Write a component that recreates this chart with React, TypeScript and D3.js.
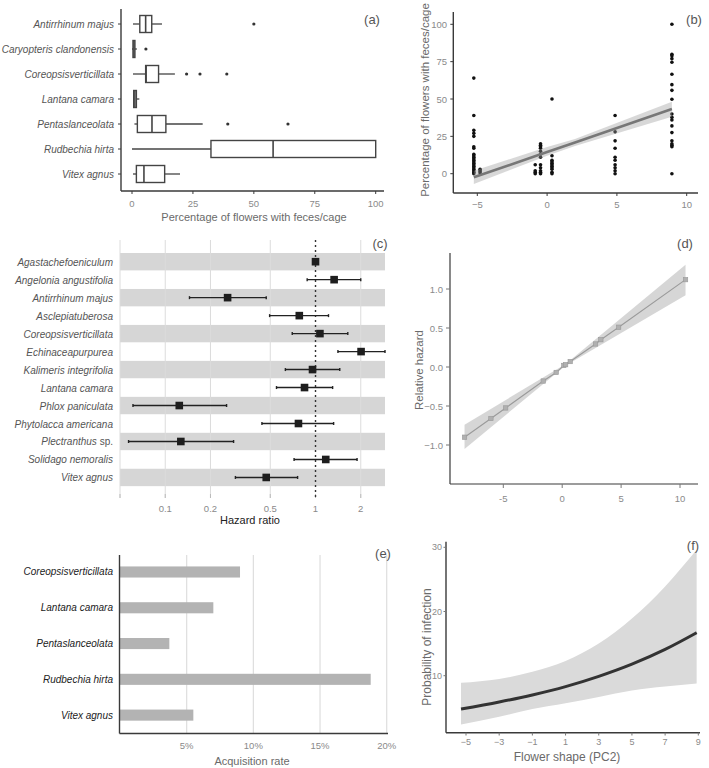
import React from "react";
import * as d3 from "d3";

// ---------- Panel (a) ----------
const boxSpecies = ["Antirrhinum  majus", "Caryopteris clandonensis", "Coreopsisverticillata", "Lantana camara", "Pentaslanceolata", "Rudbechia hirta", "Vitex agnus"];
const boxWLo = [0.4, 0, 0.4, 0.5, 1, 0, 0.4];
const boxQ1 = [3.2, 0.4, 5.6, 0.7, 2.2, 32.4, 1.8];
const boxMed = [5.6, 0.8, 5.8, 1.2, 8.2, 57.9, 4.9];
const boxQ3 = [8.1, 1.2, 10.9, 1.8, 13.9, 100, 13.4];
const boxWHi = [12.3, 2, 17.6, 3, 29, 100, 19.7];
const boxOut = [[50], [5.7], [22.4, 27.9, 38.9], [], [39.3, 64], [], []];
const pctTicks = [0, 25, 50, 75, 100];

// ---------- Panel (b) ----------
const scX = [-5.25, -4.8, -0.85, -0.47, 0.35, 4.87, 8.94];
const scY = [
  [64, 39, 29, 27, 25, 18, 17, 13, 12, 11, 10, 9, 8, 7, 6, 5, 4, 3, 2, 1, 0],
  [0.5, 1.5, 2.5, 3],
  [0, 1, 2, 6],
  [20, 19, 18, 17, 15, 13, 11, 6, 4, 2, 1, 0],
  [50, 12, 9, 8, 7, 6, 5, 4, 3, 1, 0],
  [39, 28, 22, 17, 11, 9, 6, 4, 2, 0],
  [100, 80, 79, 77, 74.6, 66.6, 59.6, 55.8, 49.8, 40, 37.8, 36, 32, 27.5, 22, 20, 19, 18, 0],
];
const fitX = [-5.25, 0, 2, 8.94];
const fitY = [-2.4, 14.5, 20.9, 43.3];
const fitLo = [-6.9, 12, 18.6, 38.2];
const fitHi = [2.0, 17.8, 23.2, 48.2];
const bXTicks = [-5, 0, 5, 10];
const bYTicks = [0, 25, 50, 75, 100];

// ---------- Panel (c) ----------
const hrSpecies = ["Agastachefoeniculum", "Angelonia angustifolia", "Antirrhinum  majus", "Asclepiatuberosa", "Coreopsisverticillata", "Echinaceapurpurea", "Kalimeris integrifolia", "Lantana camara", "Phlox paniculata", "Phytolacca americana", "Plectranthus", "Solidago nemoralis", "Vitex agnus"];
const hrVal = [1.0, 1.33, 0.26, 0.78, 1.07, 2.01, 0.955, 0.845, 0.124, 0.77, 0.127, 1.17, 0.47];
const hrLo = [1.0, 0.88, 0.145, 0.495, 0.70, 1.41, 0.63, 0.55, 0.061, 0.44, 0.057, 0.72, 0.293];
const hrHi = [1.0, 2.0, 0.47, 1.22, 1.64, 2.9, 1.45, 1.30, 0.256, 1.32, 0.285, 1.89, 0.76];
const hrGrid = [0.05, 0.1, 0.2, 0.5, 1, 2];
const hrTickLabels = ["", "0.1", "0.2", "0.5", "1", "2"];

// ---------- Panel (d) ----------
const rhX = [-8.29, -6.05, -4.8, -1.61, -0.51, 0.14, 0.29, 0.68, 2.83, 3.28, 4.79, 10.47];
const rhY = [-0.9, -0.66, -0.525, -0.18, -0.07, 0.02, 0.03, 0.07, 0.295, 0.35, 0.51, 1.12];
const rhBandX = [-8.29, 0.3, 10.47];
const rhBandLo = [-1.05, 0.02, 0.92];
const rhBandHi = [-0.74, 0.04, 1.31];
const dXTicks = [-5, 0, 5, 10];
const dYTicks = [1.0, 0.5, 0.0, -0.5, -1.0];

// ---------- Panel (e) ----------
const acqSpecies = ["Coreopsisverticillata", "Lantana camara", "Pentaslanceolata", "Rudbechia hirta", "Vitex agnus"];
const acqRate = [9.0, 7.0, 3.7, 18.8, 5.5];
const acqTicks = [5, 10, 15, 20];

// ---------- Panel (f) ----------
const pfX = [-5.3, -3, -1, 1, 3, 5, 7, 8.9];
const pfY = [4.8, 5.9, 7.0, 8.3, 9.9, 11.8, 14.1, 16.7];
const pfLo = [2.4, 3.6, 4.8, 5.7, 6.7, 7.7, 8.3, 8.8];
const pfHi = [8.9, 9.5, 10.6, 12.3, 15.0, 18.9, 23.9, 29.6];
const fXTicks = [-5, -3, -1, 1, 3, 5, 7, 9];
const fYTicks = [10, 20, 30];

const FONT = "Liberation Sans, Arial, Helvetica, sans-serif";
const AX = "#3a3a3a";
const TICK = "#8a8a8a";
const TITLE = "#6a6a6a";

function PanelA() {
  const x = d3.scaleLinear().domain([0, 100]).range([132, 375.7]);
  const y = d3.scaleBand().domain(boxSpecies).range([11.5, 186.5]);
  const bh = 17;
  return (
    <g>
      <line x1={121} x2={121} y1={9} y2={191} stroke={AX} strokeWidth={1.4} />
      <line x1={121} x2={384} y1={191} y2={191} stroke={AX} strokeWidth={1.4} />
      {pctTicks.map((t) => (
        <g key={t}>
          <line x1={x(t)} x2={x(t)} y1={191} y2={194} stroke={AX} />
          <text x={x(t)} y={203} textAnchor="middle" dominantBaseline="central" fontSize={9.5} fill={TICK}>{t}</text>
        </g>
      ))}
      <text x={254} y={217} textAnchor="middle" dominantBaseline="central" fontSize={11} fill={TITLE}>Percentage of flowers with feces/cage</text>
      {boxSpecies.map((s, i) => {
        const cy = (y(s) as number) + y.bandwidth() / 2;
        return (
          <g key={s}>
            <line x1={118} x2={121} y1={cy} y2={cy} stroke={AX} />
            <text x={114} y={cy} textAnchor="end" dominantBaseline="central" fontSize={10} fontStyle="italic" fill="#555">{s}</text>
            <line x1={x(boxWLo[i])} x2={x(boxQ1[i])} y1={cy} y2={cy} stroke="#444" strokeWidth={1.3} />
            <line x1={x(boxQ3[i])} x2={x(boxWHi[i])} y1={cy} y2={cy} stroke="#444" strokeWidth={1.3} />
            <rect x={x(boxQ1[i])} y={cy - bh / 2} width={Math.max(1, x(boxQ3[i]) - x(boxQ1[i]))} height={bh} fill="white" stroke="#444" strokeWidth={1.4} />
            <line x1={x(boxMed[i])} x2={x(boxMed[i])} y1={cy - bh / 2} y2={cy + bh / 2} stroke="#444" strokeWidth={1.6} />
            {boxOut[i].map((o, j) => (
              <circle key={j} cx={x(o)} cy={cy} r={1.6} fill="#333" />
            ))}
          </g>
        );
      })}
      <text x={372} y={19} textAnchor="middle" dominantBaseline="central" fontSize={13} fill="#555">(a)</text>
    </g>
  );
}

function PanelB() {
  const x = d3.scaleLinear().domain([-5, 10]).range([477.3, 686.7]);
  const y = d3.scaleLinear().domain([0, 100]).range([173.7, 24.3]);
  const area = d3.area<number>().x((_, i) => x(fitX[i])).y0((_, i) => y(fitLo[i])).y1((_, i) => y(fitHi[i]));
  const line = d3.line<number>().x((_, i) => x(fitX[i])).y((d) => y(d));
  return (
    <g>
      <line x1={453.3} x2={453.3} y1={12} y2={193} stroke={AX} strokeWidth={1.4} />
      <line x1={453.3} x2={698} y1={193} y2={193} stroke={AX} strokeWidth={1.4} />
      {bXTicks.map((t) => (
        <g key={t}>
          <line x1={x(t)} x2={x(t)} y1={193} y2={196} stroke={AX} />
          <text x={x(t)} y={204} textAnchor="middle" dominantBaseline="central" fontSize={9.5} fill={TICK}>{t < 0 ? "\u2212" + Math.abs(t) : t}</text>
        </g>
      ))}
      {bYTicks.map((t) => (
        <g key={t}>
          <line x1={450.3} x2={453.3} y1={y(t)} y2={y(t)} stroke={AX} />
          <text x={447} y={y(t)} textAnchor="end" dominantBaseline="central" fontSize={9.5} fill={TICK}>{t}</text>
        </g>
      ))}
      <text transform={`translate(425,100) rotate(-90)`} textAnchor="middle" dominantBaseline="central" fontSize={11.5} fill={TITLE}>Percentage of flowers  with  feces/cage</text>
      {scX.map((cx, i) =>
        scY[i].map((v, j) => <circle key={`${i}-${j}`} cx={x(cx)} cy={y(v)} r={1.8} fill="#111" />)
      )}
      <path d={area(fitX) || ""} fill="#999" fillOpacity={0.38} />
      <path d={line(fitY) || ""} fill="none" stroke="#777" strokeWidth={2.6} />
      <text x={694} y={19} textAnchor="middle" dominantBaseline="central" fontSize={13} fill="#555">(b)</text>
    </g>
  );
}

function PanelC() {
  const x = d3.scaleLog().domain([0.05, 2.9]).range([120, 385]);
  const y = d3.scaleBand().domain(hrSpecies).range([252.7, 485.9]).paddingInner(0.03);
  const step = y.step();
  return (
    <g>
      {hrSpecies.map((s, i) =>
        i % 2 === 0 ? <rect key={s} x={120} y={(y(s) as number) + 0.3} width={265} height={step - 0.6} fill="#d6d6d6" /> : null
      )}
      {hrGrid.map((t, i) =>
        t === 1 ? null : <line key={t} x1={x(t)} x2={x(t)} y1={240} y2={498} stroke="#dcdcdc" strokeWidth={1} />
      )}
      {hrGrid.map((t, i) => (
        <g key={"t" + t}>
          <line x1={x(t)} x2={x(t)} y1={494} y2={498} stroke="#bbb" />
          <text x={x(t)} y={508} textAnchor="middle" dominantBaseline="central" fontSize={9.5} fill={TICK}>{hrTickLabels[i]}</text>
        </g>
      ))}
      <line x1={x(1)} x2={x(1)} y1={240} y2={498} stroke="#333" strokeWidth={1.4} strokeDasharray="2,3" />
      <text x={250} y={520} textAnchor="middle" dominantBaseline="central" fontSize={11} fill="#222">Hazard ratio</text>
      {hrSpecies.map((s, i) => {
        const cy = (y(s) as number) + step / 2;
        return (
          <g key={s}>
            <text x={113} y={cy} textAnchor="end" dominantBaseline="central" fontSize={10} fill="#555">
              {s === "Plectranthus" ? (
                <><tspan fontStyle="italic">Plectranthus</tspan><tspan> sp.</tspan></>
              ) : (
                <tspan fontStyle="italic">{s}</tspan>
              )}
            </text>
            {hrLo[i] !== hrHi[i] && (
              <g stroke="#222" strokeWidth={1.4}>
                <line x1={x(hrLo[i])} x2={x(hrHi[i])} y1={cy} y2={cy} />
                <line x1={x(hrLo[i])} x2={x(hrLo[i])} y1={cy - 1.5} y2={cy + 1.5} />
                <line x1={x(hrHi[i])} x2={x(hrHi[i])} y1={cy - 1.5} y2={cy + 1.5} />
              </g>
            )}
            <rect x={x(hrVal[i]) - 3.8} y={cy - 3.8} width={7.6} height={7.6} fill="#1e1e1e" />
          </g>
        );
      })}
      <text x={380} y={243} textAnchor="middle" dominantBaseline="central" fontSize={13} fill="#555">(c)</text>
    </g>
  );
}

function PanelD() {
  const x = d3.scaleLinear().domain([-5, 10]).range([503.3, 680]);
  const y = d3.scaleLinear().domain([-1, 1]).range([445, 289]);
  const area = d3.area<number>().x((d) => x(d)).y0((_, i) => y(rhBandLo[i])).y1((_, i) => y(rhBandHi[i]));
  const line = d3.line<number>().x((_, i) => x(rhX[i])).y((d) => y(d));
  return (
    <g>
      <line x1={450} x2={450} y1={253} y2={484} stroke={AX} strokeWidth={1.2} />
      <line x1={450} x2={698} y1={484} y2={484} stroke={AX} strokeWidth={1.2} />
      {dXTicks.map((t) => (
        <g key={t}>
          <line x1={x(t)} x2={x(t)} y1={484} y2={488} stroke="#777" />
          <text x={x(t)} y={498} textAnchor="middle" dominantBaseline="central" fontSize={9.5} fill={TICK}>{t}</text>
        </g>
      ))}
      {dYTicks.map((t) => (
        <g key={t}>
          <line x1={446} x2={450} y1={y(t)} y2={y(t)} stroke="#777" />
          <text x={443} y={y(t)} textAnchor="end" dominantBaseline="central" fontSize={9.5} fill={TICK}>{t < 0 ? "\u2212" + Math.abs(t).toFixed(1) : t.toFixed(1)}</text>
        </g>
      ))}
      <text transform={`translate(419,370) rotate(-90)`} textAnchor="middle" dominantBaseline="central" fontSize={11.5} fill={TITLE}>Relative hazard</text>
      <path d={area(rhBandX) || ""} fill="#c8c8c8" fillOpacity={0.75} />
      <path d={line(rhY) || ""} fill="none" stroke="#9a9a9a" strokeWidth={1.1} />
      {rhX.map((v, i) => (
        <rect key={i} x={x(v) - 2.2} y={y(rhY[i]) - 2.2} width={4.4} height={4.4} fill="#b0b0b0" stroke="#999" strokeWidth={0.6} />
      ))}
      <text x={685} y={243} textAnchor="middle" dominantBaseline="central" fontSize={13} fill="#555">(d)</text>
    </g>
  );
}

function PanelE() {
  const x = d3.scaleLinear().domain([0, 20]).range([120, 386.7]);
  const y = d3.scaleBand().domain(acqSpecies).range([554.1, 733]).paddingInner(0.69).paddingOuter(0.345);
  return (
    <g>
      {acqTicks.map((t) => (
        <g key={t}>
          <line x1={x(t)} x2={x(t)} y1={555} y2={733} stroke="#dedede" strokeWidth={1.2} />
          <text x={x(t)} y={745} textAnchor="middle" dominantBaseline="central" fontSize={9.5} fill={TICK}>{t}%</text>
        </g>
      ))}
      {acqSpecies.map((s, i) => {
        const yy = y(s) as number;
        return (
          <g key={s}>
            <rect x={x(0)} y={yy} width={x(acqRate[i]) - x(0)} height={y.bandwidth()} fill="#b3b3b3" />
            <text x={113} y={yy + y.bandwidth() / 2} textAnchor="end" dominantBaseline="central" fontSize={10} fontStyle="italic" fill="#222">{s}</text>
          </g>
        );
      })}
      <line x1={119.5} x2={119.5} y1={555} y2={733.5} stroke={AX} strokeWidth={1.4} />
      <line x1={119.5} x2={388} y1={733.5} y2={733.5} stroke={AX} strokeWidth={1.4} />
      <text x={252} y={761} textAnchor="middle" dominantBaseline="central" fontSize={11} fill={TITLE}>Acquisition  rate</text>
      <text x={383} y={553} textAnchor="middle" dominantBaseline="central" fontSize={13} fill="#555">(e)</text>
    </g>
  );
}

function PanelF() {
  const x = d3.scaleLinear().domain([-5, 9]).range([466, 698.3]);
  const y = d3.scaleLinear().domain([10, 30]).range([675.7, 547.3]);
  const area = d3.area<number>().x((d) => x(d)).y0((_, i) => y(pfLo[i])).y1((_, i) => y(pfHi[i])).curve(d3.curveMonotoneX);
  const line = d3.line<number>().x((_, i) => x(pfX[i])).y((d) => y(d)).curve(d3.curveMonotoneX);
  return (
    <g>
      <path d={area(pfX) || ""} fill="#dadada" />
      <path d={line(pfY) || ""} fill="none" stroke="#333" strokeWidth={3} />
      <line x1={446} x2={446} y1={541.7} y2={732.7} stroke={AX} strokeWidth={1.4} />
      <line x1={446} x2={700} y1={732.7} y2={732.7} stroke={AX} strokeWidth={1.4} />
      {fXTicks.map((t) => (
        <g key={t}>
          <line x1={x(t)} x2={x(t)} y1={732.7} y2={735.5} stroke="#777" />
          <text x={x(t)} y={742} textAnchor="middle" dominantBaseline="central" fontSize={9} fill={TICK}>{t < 0 ? "\u2212" + Math.abs(t) : t}</text>
        </g>
      ))}
      {fYTicks.map((t) => (
        <g key={t}>
          <line x1={443.5} x2={446} y1={y(t)} y2={y(t)} stroke="#777" />
          <text x={442} y={y(t)} textAnchor="end" dominantBaseline="central" fontSize={9} fill={TICK}>{t}</text>
        </g>
      ))}
      <text transform={`translate(427,647) rotate(-90)`} textAnchor="middle" dominantBaseline="central" fontSize={12} fill={TITLE}>Probability  of  infection</text>
      <text x={567} y={757} textAnchor="middle" dominantBaseline="central" fontSize={12} fill={TITLE}>Flower shape (PC2)</text>
      <text x={693} y={545} textAnchor="middle" dominantBaseline="central" fontSize={13} fill="#555">(f)</text>
    </g>
  );
}

export default function App() {
  return (
    <svg width={709} height={768} viewBox="0 0 709 768" style={{ position: "absolute", left: 0, top: 0, background: "white" }} fontFamily={FONT}>
      <rect x={0} y={0} width={709} height={768} fill="white" />
      <PanelA />
      <PanelB />
      <PanelC />
      <PanelD />
      <PanelE />
      <PanelF />
    </svg>
  );
}
